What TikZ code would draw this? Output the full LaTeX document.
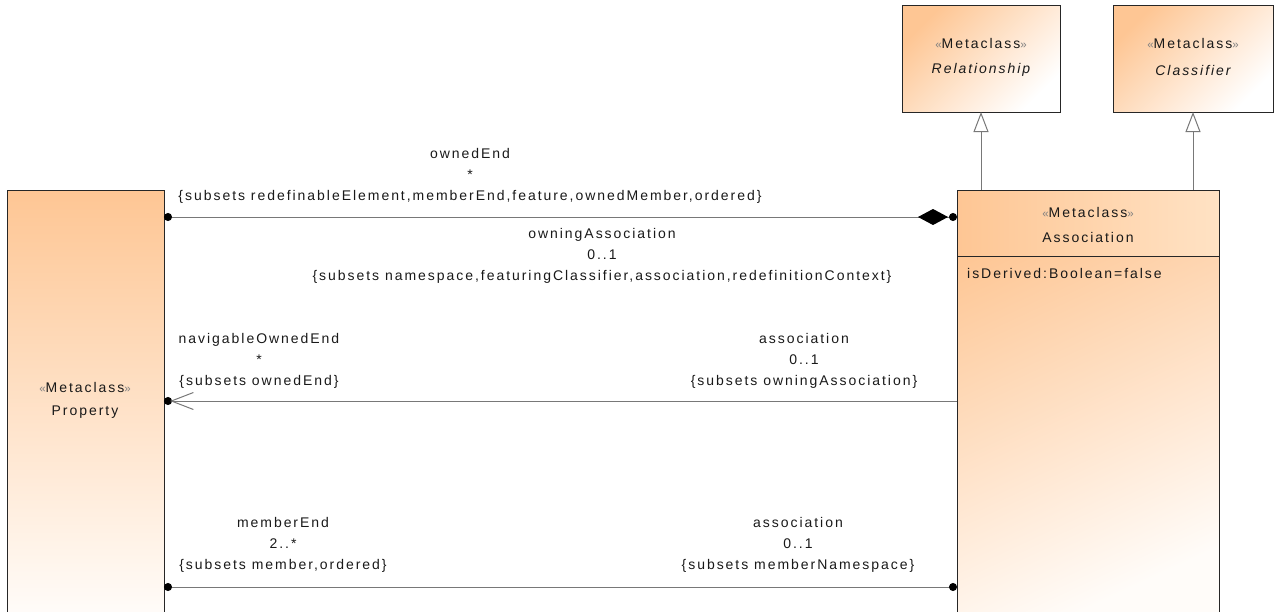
\documentclass[tikz,border=0pt]{standalone}
\usepackage{fontspec}
\newfontfamily\umlfont[LetterSpace=14]{Liberation Sans}
\usetikzlibrary{arrows.meta}
\definecolor{boxor}{RGB}{254,198,148}
\definecolor{boxlt}{RGB}{255,252,249}
\definecolor{boxhd}{RGB}{255,226,196}
\definecolor{txt}{RGB}{25,25,25}
\definecolor{connc}{RGB}{120,120,120}
\newcommand{\umllbl}[3]{\begin{tabular}[t]{@{}c@{}}{#1}\\{#2}\\{#3}\end{tabular}}
\newcommand{\gq}[1]{\textcolor{black!50}{\fontsize{11.5}{14}\selectfont #1}}
\begin{document}
\begin{tikzpicture}[x=1pt,y=-1pt,
  every node/.style={font=\umlfont\fontsize{14}{21}\selectfont, text=txt, inner sep=0pt},
  umlbox/.style={draw=black!85, line width=1pt, anchor=north west, rectangle, outer sep=0pt},
  boxline/.style={draw=black!85, line width=1pt},
  connline/.style={draw=connc, line width=1pt},
  lbl/.style={anchor=base}
]
\useasboundingbox (0,0) rectangle (1274,611);
\clip (0,0) rectangle (1274,611);

% boxes
\node[umlbox, minimum width=157, minimum height=425, top color=boxor, bottom color=boxlt] (prop) at (7,190) {};
\node[umlbox, minimum width=158, minimum height=107, top color=boxor, bottom color=white, shading angle=45] (rel) at (902,5) {};
\node[umlbox, minimum width=160, minimum height=107, top color=boxor, bottom color=white, shading angle=45] (cls) at (1113,5) {};
\node[umlbox, minimum width=262, minimum height=425, top color=boxor, bottom color=boxlt, shading angle=25] (assoc) at (957,190) {};
\shade[left color=boxor, right color=boxhd] (assoc.north west) rectangle (assoc.east |- 0,256);
\draw[boxline] (assoc.west |- 0,256) -- (assoc.east |- 0,256);
\draw[boxline] (assoc.north west) rectangle (assoc.south east);

% box texts
\node (relst) at (981,43) {\gq{«}Metaclass\gq{»}};
\node (relnm) at (981,70) {\itshape Relationship};
\node (clsst) at (1193,43) {\gq{«}Metaclass\gq{»}};
\node (clsnm) at (1193,70) {\itshape Classifier};
\node (assst) at (1088,212) {\gq{«}Metaclass\gq{»}};
\node (assnm) at (1088,237) {Association};
\node[anchor=west] (assat) at (967,273) {isDerived:Boolean=false};
\node (propst) at (85,387) {\gq{«}Metaclass\gq{»}};
\node (propnm) at (85,412) {Property};

% generalizations
\draw[connline, -{Triangle[open, fill=white, length=20pt, width=15pt]}] (rel.south |- assoc.north) -- (rel.south);
\draw[connline, -{Triangle[open, fill=white, length=20pt, width=15pt]}] (cls.south |- assoc.north) -- (cls.south);

% associations
\coordinate (pa) at (prop.east |- 0,217);
\coordinate (aa) at (assoc.west |- 0,217);
\draw[connline, {Circle[length=8pt,color=black]}-{Diamond[length=30pt,width=16pt,color=black,sep=1pt]Circle[length=8pt,color=black]}] (pa) -- (aa);

\coordinate (pn) at (prop.east |- 0,401);
\coordinate (an) at (assoc.west |- 0,401);
\draw[connline, {Circle[length=8pt,color=black]}-] (pn) -- (an);
\draw[connline, -{Straight Barb[length=22pt,width=17pt]}] ([xshift=30pt]pn) -- ([xshift=6pt]pn);

\coordinate (pm) at (prop.east |- 0,587);
\coordinate (am) at (assoc.west |- 0,587);
\draw[connline, {Circle[length=8pt,color=black]}-{Circle[length=8pt,color=black]}] (pm) -- (am);

% labels
\node[lbl] (l1) at (470,158) {\umllbl{ownedEnd}{*}{\{subsets redefinableElement,memberEnd,feature,ownedMember,ordered\}}};
\node[lbl] (l2) at (602,238) {\umllbl{owningAssociation}{0..1}{\{subsets namespace,featuringClassifier,association,redefinitionContext\}}};
\node[lbl] (l3) at (259,343) {\umllbl{navigableOwnedEnd}{*}{\{subsets ownedEnd\}}};
\node[lbl] (l4) at (804,343) {\umllbl{association}{0..1}{\{subsets owningAssociation\}}};
\node[lbl] (l5) at (283,527) {\umllbl{memberEnd}{2..*}{\{subsets member,ordered\}}};
\node[lbl] (l6) at (798,527) {\umllbl{association}{0..1}{\{subsets memberNamespace\}}};
\end{tikzpicture}
\end{document}
